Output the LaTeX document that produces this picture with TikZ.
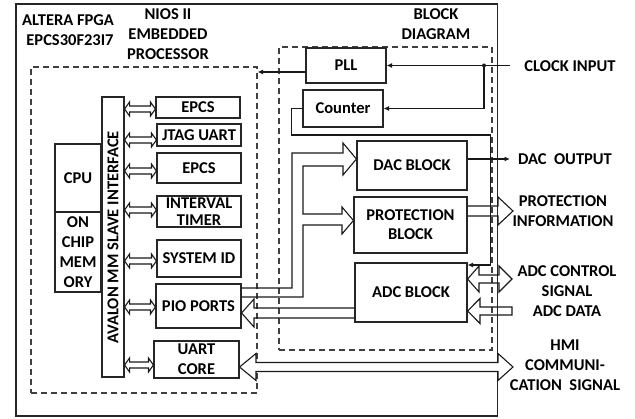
\documentclass[tikz,border=0pt]{standalone}
\usepackage{fontspec}
\setmainfont{Carlito}
\usetikzlibrary{calc,arrows.meta}
\newcommand\busarrow[3]{%
  \path (#1.east|-0,#3) coordinate (ba) (#2.west|-0,#3) coordinate (bb);
  \draw[blk] (ba) -- ++(5,-7) -- ++(0,4) -- ($(bb)+(-5,-3)$) -- ++(0,-4) -- (bb)
    -- ++(-5,7) -- ++(0,-4) -- ($(ba)+(5,3)$) -- ++(0,4) -- cycle;}
\begin{document}
\begin{tikzpicture}[x=1pt,y=-1pt,
  every node/.style={font=\fontsize{16.5}{20}\selectfont\bfseries, text=black, inner sep=0pt},
  box/.style={draw=black!85, line width=1.1pt, align=center},
  lbl/.style={align=center},
  ln/.style={draw=black!90, line width=1.1pt},
  blk/.style={draw=black!90, line width=1.1pt, line join=miter},
  dsh/.style={draw=black!75, line width=1.1pt, dash pattern=on 6pt off 4pt},
  arr/.style={ln, -{Latex[length=5.5pt,width=5pt]}},
]
\useasboundingbox (0,0) rectangle (635,419);

% containers
\node[box, minimum width=481.5, minimum height=412] (fpga) at (256.75,210) {};
\node[dsh, minimum width=226, minimum height=326] (nios) at (144,230) {};
\node[dsh, minimum width=213, minimum height=303] (bd) at (385.5,198.5) {};

% titles
\node[lbl] (t1) at (68,20) {ALTERA FPGA};
\node[lbl] (t2) at (70,40) {EPCS30F23I7};
\node[lbl] (t3) at (168,34) {NIOS II\\EMBEDDED\\PROCESSOR};
\node[lbl] (t4) at (436,24) {BLOCK\\DIAGRAM};

% NIOS part
\node[box, minimum width=22, minimum height=280] (avalon) at (113,237) {};
\node[rotate=90] (avt) at (113,237.5) {AVALON MM SLAVE INTERFACE};
\node[box, minimum width=46, minimum height=68] (cpu) at (78,178) {CPU};
\node[box, minimum width=46, minimum height=80] (mem) at (78,252) {ON\\CHIP\\MEM\\ORY};
\node[box, minimum width=84, minimum height=21] (epcsA) at (198,107.5) {EPCS};
\node[box, minimum width=84, minimum height=22] (jtag) at (199,135) {JTAG UART};
\node[box, minimum width=84, minimum height=30] (epcsB) at (199,168) {EPCS};
\node[box, minimum width=84, minimum height=31, font=\fontsize{16.5}{17}\selectfont\bfseries] (timer) at (199,211.5) {INTERVAL\\TIMER};
\node[box, minimum width=84, minimum height=37] (sysid) at (199,258.5) {SYSTEM ID};
\node[box, minimum width=85, minimum height=44] (pio) at (198.5,306) {PIO PORTS};
\node[box, minimum width=85, minimum height=37] (uart) at (196.5,359.5) {UART\\CORE};

\busarrow{avalon}{epcsA}{109}
\busarrow{avalon}{jtag}{140}
\busarrow{avalon}{epcsB}{171}
\busarrow{avalon}{timer}{210}
\busarrow{avalon}{sysid}{261}
\busarrow{avalon}{pio}{307}
\busarrow{avalon}{uart}{365}

% block diagram part
\node[box, minimum width=80, minimum height=35] (pll) at (346,65.5) {PLL};
\node[box, minimum width=80, minimum height=37] (counter) at (343,108.5) {Counter};
\node[box, minimum width=110, minimum height=49] (dac) at (412,165.5) {DAC BLOCK};
\node[box, minimum width=113, minimum height=56, font=\fontsize{16.5}{19}\selectfont\bfseries] (prot) at (410.5,225) {PROTECTION\\BLOCK};
\node[box, minimum width=112, minimum height=59] (adc) at (411,292.5) {ADC BLOCK};

% right labels
\node[lbl] (clk) at (570,66) {CLOCK INPUT};
\node[lbl] (dacl) at (565,159.5) {DAC\ \ OUTPUT};
\node[lbl] (protl) at (563,211) {PROTECTION\\INFORMATION};
\node[lbl] (adcl) at (567,291) {ADC CONTROL\\SIGNAL\\ADC DATA};
\node[lbl] (hmil) at (565,365) {HMI\\COMMUNI-\\CATION\ \ SIGNAL};

% clock
\coordinate (clkin) at (510,65.5);
\coordinate (split) at (484,65.5);
\draw[arr] (clkin) -- (pll.east);
\draw[arr] (split) |- (counter.east);
\fill[black!90] (split) circle (2pt);
\draw[arr] (pll.west|-0,72) -- (nios.east|-0,72);
\draw[arr] (counter.west) -- ++(-11,0) |- (490.5,135) -- (490.5,265) -- (adc.east|-0,265);

% DAC output
\coordinate (dacout) at (510,159);
\draw[arr] (dac.east|-0,159) -- (dacout);

% PIO -> DAC / PROTECTION
\draw[blk] (pio.east|-0,288) -- (292,288) -- (292,153) -- (343,153) -- (343,143)
  -- (dac.west|-0,159) -- (343,175) -- (343,166) -- (303,166) -- (303,214)
  -- (342,214) -- (342,207) -- (prot.west|-0,220.5) -- (342,234) -- (342,225)
  -- (303,225) -- (303,297) -- (pio.east|-0,297);

% ADC -> PIO
\draw[blk] (adc.west|-0,308) -- (254,308) -- (254,299) -- (pio.east|-0,313)
  -- (254,327) -- (254,318) -- (adc.west|-0,318);

% protection info
\draw[blk] (prot.east|-0,206) -- (498,206) -- (498,197) -- (513,211)
  -- (498,225) -- (498,216) -- (prot.east|-0,216);

% ADC control
\draw[blk] (adc.east|-0,279) -- (479,266) -- (479,275) -- (499,275) -- (499,266)
  -- (512,279) -- (499,292) -- (499,283) -- (479,283) -- (479,292) -- cycle;

% ADC data
\draw[blk] (adc.east|-0,311) -- (480,298.5) -- (480,307) -- (512,307)
  -- (512,315) -- (480,315) -- (480,323.5) -- cycle;

% HMI
\coordinate (hmi) at (513,367);
\draw[blk, fill=white] (uart.east|-0,367) -- (256,353.5) -- (256,362.5) -- (498,362.5)
  -- (498,353.5) -- (hmi) -- (498,380.5) -- (498,371.5) -- (256,371.5)
  -- (256,380.5) -- cycle;
\end{tikzpicture}
\end{document}
